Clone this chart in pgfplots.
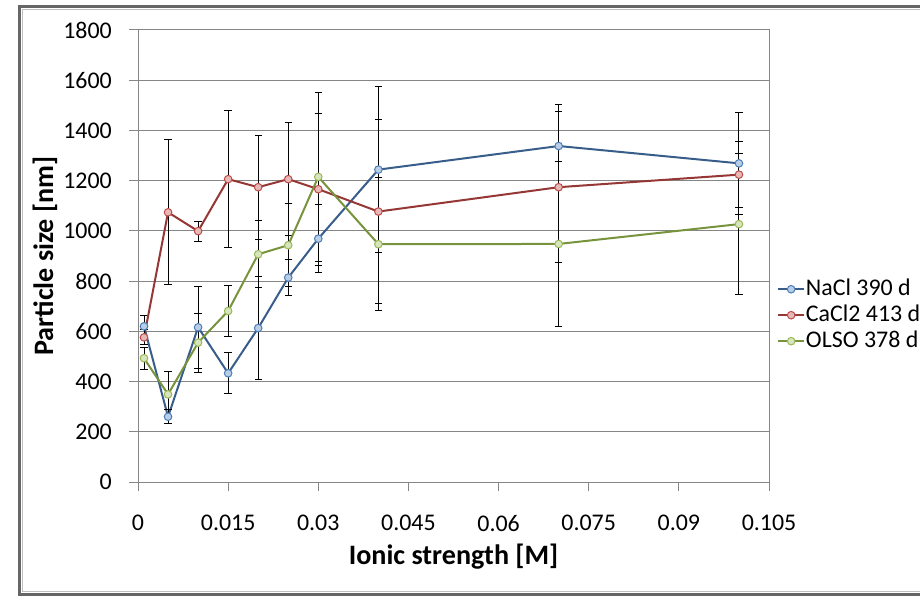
\documentclass[border=0pt]{standalone}
\usepackage{pgfplots}
\pgfplotsset{compat=1.18}
\usepackage{fontspec}
\setmainfont{Carlito}

\definecolor{gridgray}{HTML}{868686}
\definecolor{naclline}{HTML}{385D8A}
\definecolor{naclfill}{HTML}{B9CDE5}
\definecolor{nacledge}{HTML}{4A7EBB}
\definecolor{caline}{HTML}{953735}
\definecolor{cafill}{HTML}{E6B9B8}
\definecolor{caedge}{HTML}{BE4B48}
\definecolor{olline}{HTML}{77933C}
\definecolor{olfill}{HTML}{D7E4BD}
\definecolor{oledge}{HTML}{98B954}

% particle size vs ionic strength, with error (+/-)
\pgfplotstableread{
x      y     e
0.001  620   44
0.005  260   29
0.010  616   163
0.015  433   82
0.020  613   206
0.025  814   72
0.030  969   135
0.040  1244  330
0.070  1338  164
0.100  1269  202
}\nacl
\pgfplotstableread{
x      y     e
0.001  576   30
0.005  1074  288
0.010  999   40
0.015  1206  273
0.020  1174  207
0.025  1206  224
0.030  1166  303
0.040  1077  365
0.070  1174  300
0.100  1224  130
}\cacl
\pgfplotstableread{
x      y     e
0.001  493   44
0.005  349   90
0.010  555   117
0.015  681   103
0.020  907   133
0.025  943   166
0.030  1215  335
0.040  947   266
0.070  948   330
0.100  1027  280
}\olso

\begin{document}
\begin{tikzpicture}
\useasboundingbox (0,0) rectangle (13.8cm,8.97cm);
\begin{scope}
\clip (0,0) rectangle (13.8cm,8.97cm);
\draw[line width=0.05cm, black!60] (0.29cm,0.055cm) rectangle (14.4cm,8.87cm);
\draw[line width=0.02cm, black!25] (0.335cm,0.1cm) rectangle (14.4cm,8.825cm);
\end{scope}
\begin{axis}[
    at={(2.07cm,1.74cm)}, anchor=south west,
    scale only axis,
    width=9.465cm, height=6.78cm,
    xmin=0, xmax=0.105, ymin=0, ymax=1800,
    xtick={0,0.015,0.03,0.045,0.06,0.075,0.09,0.105},
    xticklabels={0,0.015,0.03,0.045,0.06,0.075,0.09,0.105},
    ytick={0,200,...,1800},
    xtick pos=bottom, ytick pos=left,
    tick align=outside,
    major tick length=0.135cm,
    tick style={gridgray, line width=0.015cm},
    axis line style={gridgray, line width=0.015cm},
    ymajorgrids,
    grid style={gridgray, line width=0.015cm},
    ticklabel style={font=\fontsize{10.2}{12}\selectfont},
    xticklabel style={yshift=-0.24cm},
    yticklabel style={xshift=-0.135cm, /pgf/number format/1000 sep={},
        /pgf/number format/assume math mode=true},
    xlabel={Ionic strength [M]},
    ylabel={Particle size [nm]},
    every axis x label/.style={at={(rel axis cs:0.5,0)}, yshift=-1.125cm,
        anchor=center, font=\fontsize{12}{14}\selectfont\bfseries},
    every axis y label/.style={at={(rel axis cs:0,0.5)}, xshift=-1.395cm,
        anchor=center, rotate=90, font=\fontsize{12}{14}\selectfont\bfseries},
    legend style={draw=none, fill=none, at={(1.0127,0.369)}, anchor=west,
        font=\fontsize{10.2}{12}\selectfont, row sep=1.5pt, inner sep=0pt,
        nodes={inner sep=0.5pt}},
    legend cell align=left,
    legend image code/.code={\draw[mark repeat=2,mark phase=2]
        plot coordinates {(0cm,0cm)(0.19cm,0cm)(0.38cm,0cm)};},
    error bars/error bar style={black, line width=0.015cm},
    error bars/error mark options={rotate=90, black, line width=0.015cm, mark size=0.055cm},
]
\addplot[naclline, line width=0.03cm, mark=*, mark size=0.057cm,
    mark options={fill=naclfill, draw=nacledge, line width=0.015cm},
    error bars/.cd, y dir=both, y explicit]
    table[x=x, y=y, y error=e] {\nacl};
\addlegendentry{NaCl 390 d}
\addplot[caline, line width=0.03cm, mark=*, mark size=0.057cm,
    mark options={fill=cafill, draw=caedge, line width=0.015cm},
    error bars/.cd, y dir=both, y explicit]
    table[x=x, y=y, y error=e] {\cacl};
\addlegendentry{CaCl2 413 d}
\addplot[olline, line width=0.03cm, mark=*, mark size=0.057cm,
    mark options={fill=olfill, draw=oledge, line width=0.015cm},
    error bars/.cd, y dir=both, y explicit]
    table[x=x, y=y, y error=e] {\olso};
\addlegendentry{OLSO 378 d}
\end{axis}
\end{tikzpicture}
\end{document}
